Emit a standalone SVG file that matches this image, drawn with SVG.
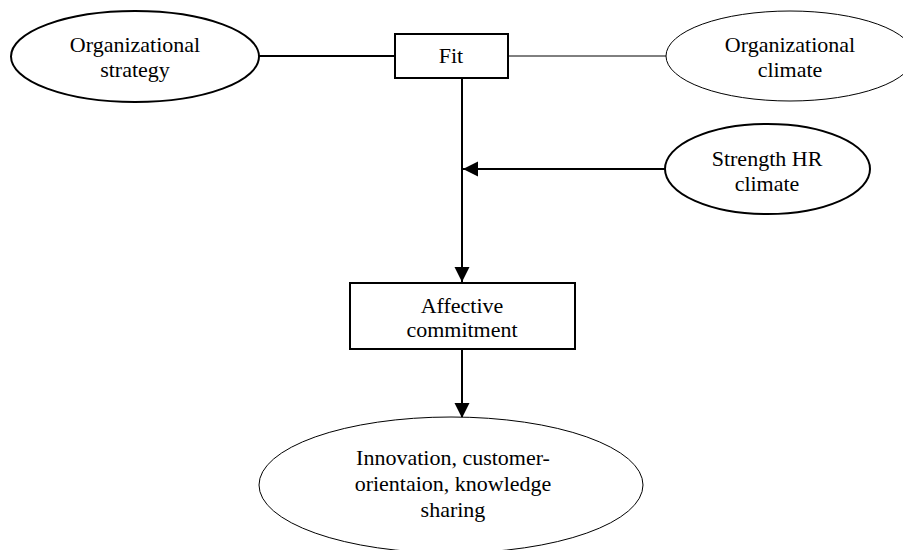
<svg xmlns="http://www.w3.org/2000/svg" width="903" height="550" viewBox="0 0 903 550">
<style>
.node{fill:#fff;stroke:#000;stroke-width:2}
.thin{fill:#fff;stroke:#000;stroke-width:1}
.lbl{font-family:"Liberation Serif","Times New Roman",serif;font-size:22px;fill:#000;text-anchor:middle}
.con{stroke:#000;stroke-width:2;fill:none}
</style>
<defs>
<marker id="arr" markerUnits="userSpaceOnUse" markerWidth="16" markerHeight="16" refX="15" refY="7.5" orient="auto" viewBox="0 0 16 16">
<path d="M0,0 L15,7.5 L0,15 Z" fill="#000"/>
</marker>
</defs>
<rect width="903" height="550" fill="#fff"/>
<g id="connectors">
<line class="con" x1="259" y1="56" x2="395" y2="56" stroke-width="1.5"/>
<line class="con" x1="508" y1="56" x2="666" y2="56" style="stroke-width:1"/>
<line class="con" x1="462" y1="79" x2="462" y2="282" marker-end="url(#arr)"/>
<line class="con" x1="665" y1="169" x2="463" y2="169" marker-end="url(#arr)"/>
<line class="con" x1="462" y1="350" x2="462" y2="418" marker-end="url(#arr)"/>
</g>
<g id="org-strategy">
<ellipse class="node" cx="135" cy="56.5" rx="124" ry="45.5"/>
<text class="lbl" x="135" y="52">Organizational</text>
<text class="lbl" x="135" y="77">strategy</text>
</g>
<g id="fit">
<rect class="node" x="395" y="34" width="113" height="44"/>
<text class="lbl" x="451" y="63">Fit</text>
</g>
<g id="org-climate">
<ellipse class="thin" cx="790" cy="56" rx="124" ry="45"/>
<text class="lbl" x="790" y="52">Organizational</text>
<text class="lbl" x="790" y="77">climate</text>
</g>
<g id="strength-hr">
<ellipse class="node" cx="767.5" cy="169" rx="102.5" ry="45"/>
<text class="lbl" x="767" y="166">Strength HR</text>
<text class="lbl" x="767" y="191">climate</text>
</g>
<g id="affective">
<rect class="node" x="350" y="283" width="225" height="66"/>
<text class="lbl" x="462" y="313">Affective</text>
<text class="lbl" x="462" y="337">commitment</text>
</g>
<g id="outcomes">
<ellipse class="thin" cx="451" cy="485" rx="192" ry="68"/>
<text class="lbl" x="453" y="465">Innovation, customer-</text>
<text class="lbl" x="453" y="491">orientaion, knowledge</text>
<text class="lbl" x="453" y="517">sharing</text>
</g>
</svg>
